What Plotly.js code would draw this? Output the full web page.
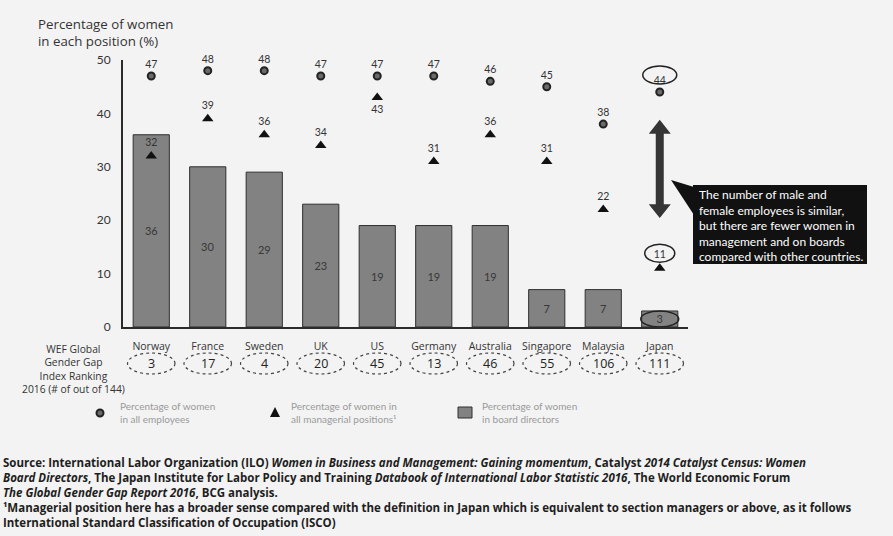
<!DOCTYPE html>
<html>
<head>
<meta charset="utf-8">
<script src="https://cdn.plot.ly/plotly-3.0.1.min.js"></script>
<style>
  html, body { margin: 0; padding: 0; background: #f3f3f3; }
  #chart { width: 893px; height: 536px; }
</style>
</head>
<body>
<div id="chart"></div>
<script>
// Share of women by position, per country (%)
const countries = ['Norway', 'France', 'Sweden', 'UK', 'US', 'Germany', 'Australia', 'Singapore', 'Malaysia', 'Japan'];
const womenEmployees = [47, 48, 48, 47, 47, 47, 46, 45, 38, 44];
const womenManagers  = [32, 39, 36, 34, 43, 31, 36, 31, 22, 11];
const womenBoard     = [36, 30, 29, 23, 19, 19, 19, 7, 7, 3];
// WEF Global Gender Gap Index ranking 2016 (out of 144)
const gapRanking     = [3, 17, 4, 20, 45, 13, 46, 55, 106, 111];
const yTicks         = [0, 10, 20, 30, 40, 50];

const FONT = 'Lato, "Open Sans", sans-serif';
const WIDE = '"Open Sans", Lato, sans-serif';
const W = 893, H = 536;
const M = { l: 123, r: 205, t: 60, b: 209 };
const plotW = W - M.l - M.r, plotH = H - M.t - M.b;
// page pixel -> paper coordinates
const PX = x => (x - M.l) / plotW;
const PY = y => (H - M.b - y) / plotH;

const japan = countries.indexOf('Japan');

const traces = [
  {
    type: 'bar',
    x: countries,
    y: womenBoard,
    width: 0.64,
    marker: { color: '#828282', line: { color: '#2e2e2e', width: 1 } },
    text: womenBoard.map(String),
    textposition: 'inside',
    insidetextanchor: 'middle',
    textangle: 0,
    constraintext: 'none',
    textfont: { family: FONT, size: 11, color: '#383838' },
    hoverinfo: 'x+y',
    showlegend: false
  },
  {
    type: 'scatter',
    mode: 'markers+text',
    x: countries,
    y: womenManagers,
    marker: { symbol: 'triangle-up', size: 10, color: '#111' },
    text: womenManagers.map(String),
    textposition: countries.map(c => c === 'US' ? 'bottom center' : 'top center'),
    textfont: { family: FONT, size: 10.5, color: '#333' },
    cliponaxis: false,
    showlegend: false
  },
  {
    type: 'scatter',
    mode: 'markers+text',
    x: countries,
    y: womenEmployees,
    marker: { symbol: 'circle', size: 7, color: '#6a6a6a', line: { color: '#222', width: 2 } },
    text: womenEmployees.map(String),
    textposition: 'top center',
    textfont: { family: FONT, size: 10.5, color: '#333' },
    cliponaxis: false,
    showlegend: false
  }
];

const shapes = [];
const annotations = [];

// ranking ovals under each country
gapRanking.forEach((r, i) => {
  shapes.push({
    type: 'circle', xref: 'x', yref: 'paper',
    x0: i - 0.42, x1: i + 0.42, y0: PY(374), y1: PY(353),
    line: { color: '#444', width: 1.2, dash: 'dot' }
  });
  annotations.push({
    xref: 'x', yref: 'paper', x: i, y: PY(363.5), yanchor: 'middle',
    text: String(r), showarrow: false,
    font: { family: WIDE, size: 12.5, color: '#222' }
  });
});

// highlight ovals around Japan's values
shapes.push(
  { type: 'circle', xref: 'x', xsizemode: 'pixel', xanchor: japan, x0: -17, x1: 17,
    yref: 'y', ysizemode: 'pixel', yanchor: womenEmployees[japan], y0: 8, y1: 26,
    line: { color: '#222', width: 1.5 } },
  { type: 'circle', xref: 'x', xsizemode: 'pixel', xanchor: japan, x0: -15, x1: 15,
    yref: 'y', ysizemode: 'pixel', yanchor: womenManagers[japan], y0: 6, y1: 24,
    line: { color: '#222', width: 1.5 } },
  { type: 'circle', xref: 'x', xsizemode: 'pixel', xanchor: japan, x0: -19, x1: 19,
    yref: 'y', ysizemode: 'pixel', yanchor: womenBoard[japan] / 2, y0: -8, y1: 8,
    line: { color: '#222', width: 1.5 } }
);

// double-headed arrow between Japan's employee and management shares
const arrowTop = 38.8, arrowBottom = 20.4, headH = 2.6;
shapes.push({
  type: 'path', xref: 'x', xsizemode: 'pixel', xanchor: japan, yref: 'y',
  path: `M -4,${arrowTop - headH} L -11,${arrowTop - headH} L 0,${arrowTop} L 11,${arrowTop - headH} L 4,${arrowTop - headH} ` +
        `L 4,${arrowBottom + headH} L 11,${arrowBottom + headH} L 0,${arrowBottom} L -11,${arrowBottom + headH} L -4,${arrowBottom + headH} Z`,
  fillcolor: '#353535', line: { width: 0 }
});

// callout box with pointer
shapes.push(
  { type: 'rect', xref: 'paper', yref: 'paper',
    x0: PX(693), x1: PX(867), y0: PY(264), y1: PY(185),
    fillcolor: '#111', line: { width: 0 } },
  { type: 'path', xref: 'paper', yref: 'paper',
    path: `M ${PX(694)},${PY(187)} L ${PX(671)},${PY(180)} L ${PX(694)},${PY(215)} Z`,
    fillcolor: '#111', line: { width: 0 } }
);
annotations.push({
  xref: 'paper', yref: 'paper', x: PX(697), y: PY(225), xanchor: 'left', yanchor: 'middle',
  align: 'left', showarrow: false,
  text: 'The number of male and<br>female employees is similar,<br>but there are fewer women in<br>management and on boards<br>compared with other countries.',
  font: { family: FONT, size: 12, color: '#fff' }
});

// y-axis title
annotations.push({
  xref: 'paper', yref: 'paper', x: PX(36), y: PY(33), xanchor: 'left', yanchor: 'middle',
  align: 'left', showarrow: false,
  text: 'Percentage of women<br>in each position (%)',
  font: { family: WIDE, size: 13.3, color: '#333' }
});

// ranking row label
annotations.push({
  xref: 'paper', yref: 'paper', x: PX(73), y: PY(369), xanchor: 'center', yanchor: 'middle',
  align: 'center', showarrow: false,
  text: 'WEF Global<br>Gender Gap<br>Index Ranking<br>2016 (# of out of 144)',
  font: { family: WIDE, size: 10.3, color: '#333' }
});

// legend
const LG = '#9a9a9a';
shapes.push(
  { type: 'circle', xref: 'paper', yref: 'paper',
    x0: PX(96.5), x1: PX(103.5), y0: PY(416.5), y1: PY(409.5),
    fillcolor: '#6a6a6a', line: { color: '#222', width: 2 } },
  { type: 'path', xref: 'paper', yref: 'paper',
    path: `M ${PX(270)},${PY(417)} L ${PX(275)},${PY(407)} L ${PX(280)},${PY(417)} Z`,
    fillcolor: '#111', line: { width: 0 } },
  { type: 'rect', xref: 'paper', yref: 'paper',
    x0: PX(458), x1: PX(472), y0: PY(418), y1: PY(407),
    fillcolor: '#828282', line: { color: '#2e2e2e', width: 1 } }
);
[[118, 'Percentage of women<br>in all employees'],
 [289, 'Percentage of women in<br>all managerial positions¹'],
 [480, 'Percentage of women<br>in board directors']].forEach(([x, t]) => {
  annotations.push({
    xref: 'paper', yref: 'paper', x: PX(x), y: PY(412), xanchor: 'left', yanchor: 'middle',
    align: 'left', showarrow: false, text: t,
    font: { family: FONT, size: 10, color: LG }
  });
});

// source notes
const notes = [
  'Source: International Labor Organization (ILO) <i>Women in Business and Management: Gaining momentum</i>, Catalyst <i>2014 Catalyst Census: Women</i>',
  '<i>Board Directors</i>, The Japan Institute for Labor Policy and Training <i>Databook of International Labor Statistic 2016</i>, The World Economic Forum',
  '<i>The Global Gender Gap Report 2016</i>, BCG analysis.',
  '¹Managerial position here has a broader sense compared with the definition in Japan which is equivalent to section managers or above, as it follows',
  'International Standard Classification of Occupation (ISCO)'
];
annotations.push({
  xref: 'paper', yref: 'paper', x: PX(1), y: PY(492.5), xanchor: 'left', yanchor: 'middle',
  align: 'left', showarrow: false, text: '<b>' + notes.join('<br>') + '</b>',
  font: { family: WIDE, size: 11.5, color: '#1e1e1e' }
});

const layout = {
  width: W, height: H,
  margin: M,
  paper_bgcolor: '#f3f3f3',
  plot_bgcolor: 'rgba(0,0,0,0)',
  font: { family: FONT, color: '#333' },
  showlegend: false,
  xaxis: {
    type: 'category',
    range: [-0.5, 9.5],
    showline: true, linecolor: '#2b2b2b', linewidth: 2,
    showgrid: false, zeroline: false, ticks: '',
    ticklabelstandoff: 8,
    tickfont: { family: WIDE, size: 10.5, color: '#333' },
    fixedrange: true
  },
  yaxis: {
    range: [0, 50],
    tickvals: yTicks,
    showline: true, linecolor: '#2b2b2b', linewidth: 2,
    showgrid: false, zeroline: false, ticks: '',
    ticklabelstandoff: 8,
    tickfont: { family: FONT, size: 12, color: '#333' },
    fixedrange: true
  },
  shapes: shapes,
  annotations: annotations
};

Plotly.newPlot('chart', traces, layout, { displayModeBar: false, staticPlot: true });
</script>
</body>
</html>
